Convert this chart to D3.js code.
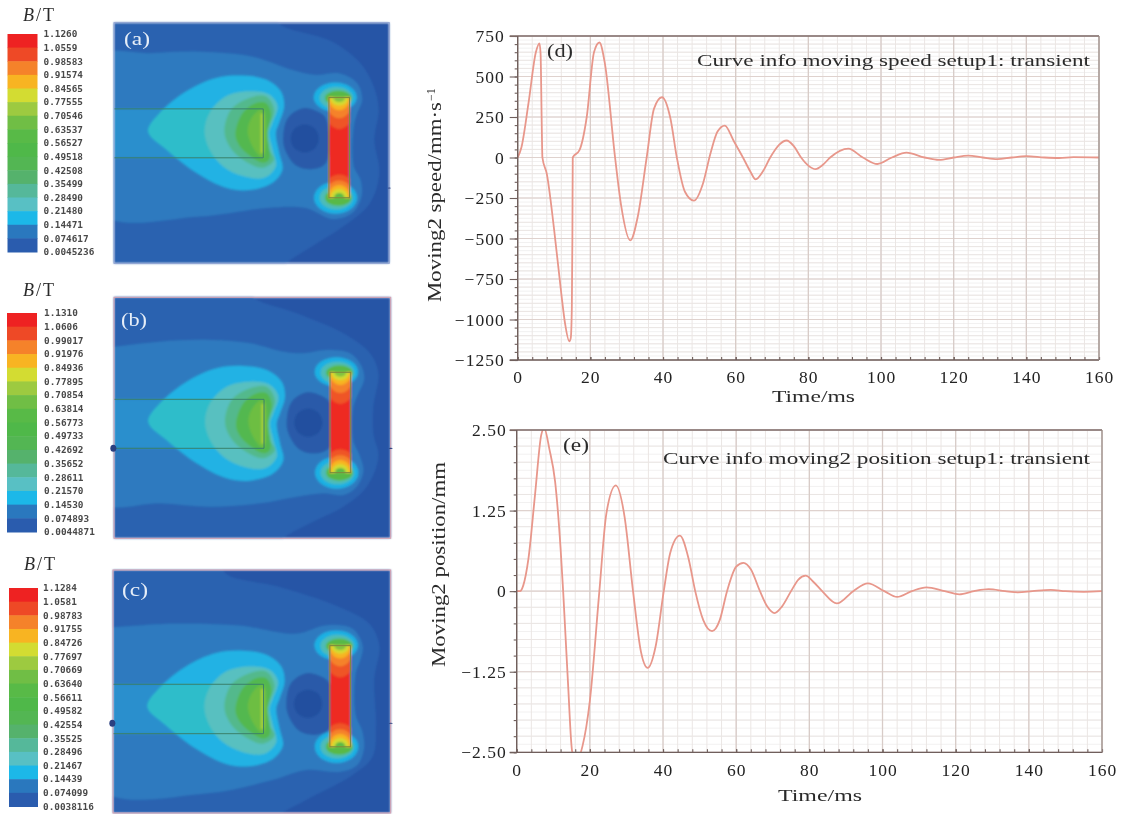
<!DOCTYPE html>
<html><head><meta charset="utf-8">
<script src="https://cdn.jsdelivr.net/npm/d3@7/dist/d3.min.js"></script>
<style>html,body{margin:0;padding:0;background:#fff}svg{display:block}
text{font-family:"Liberation Serif",serif;fill:#2b2b2b}</style></head><body>
<svg id="c" width="1123" height="814"></svg>
<script>
// ---------- legends ----------
const legendColors = ["#ee2024","#ee4a25","#f5822a","#f8b422","#d3dc33","#9dca3f","#6fbe45","#58ba47","#4fb848","#52b652","#54b26c","#55b89a","#58c0c4","#1fb8e8","#2a78be","#2a5cae"];
const legendA = ["1.1260","1.0559","0.98583","0.91574","0.84565","0.77555","0.70546","0.63537","0.56527","0.49518","0.42508","0.35499","0.28490","0.21480","0.14471","0.074617","0.0045236"];
const legendB = ["1.1310","1.0606","0.99017","0.91976","0.84936","0.77895","0.70854","0.63814","0.56773","0.49733","0.42692","0.35652","0.28611","0.21570","0.14530","0.074893","0.0044871"];
const legendC = ["1.1284","1.0581","0.98783","0.91755","0.84726","0.77697","0.70669","0.63640","0.56611","0.49582","0.42554","0.35525","0.28496","0.21467","0.14439","0.074099","0.0038116"];

// ---------- field contours (field units: 830 x 723 per panel) ----------
const outerA = [[-40,-40],[498,-40],[498,2],[658,57],[743,122],[783,192],[798,262],[785,352],[800,452],[770,545],[680,620],[600,670],[520,723],[480,770],[-40,770]];
const outerB = [[-40,-40],[400,-40],[418,0],[548,48],[688,108],[768,168],[793,228],[778,328],[778,408],[793,478],[758,568],[688,628],[608,668],[508,723],[470,770],[-40,770]];
const outerC = [[-40,-40],[320,-40],[336,10],[496,50],[676,110],[766,160],[796,225],[781,325],[786,465],[776,555],[716,610],[576,685],[496,730],[460,770],[-40,770]];
const bandA = [[-40,102],[108,92],[258,87],[418,102],[538,142],[608,157],[678,152],[733,182],[748,232],[733,272],[723,312],[723,432],[743,472],[746,522],[718,572],[658,590],[578,557],[458,557],[258,582],[-40,572]];
const bandB = [[-40,150],[0,148],[138,133],[288,128],[408,138],[508,163],[568,168],[638,158],[708,168],[743,208],[750,248],[733,288],[718,330],[718,430],[735,470],[748,520],[728,568],[688,593],[628,588],[548,598],[438,618],[288,628],[138,618],[-40,613]];
const bandC = [[-40,170],[0,170],[176,160],[376,165],[546,190],[636,165],[716,175],[746,225],[740,265],[725,310],[725,430],[745,480],[750,530],[730,580],[680,600],[576,595],[476,625],[276,665],[-40,650]];
const blobCyan = [[103,373],[138,318],[218,253],[308,213],[388,206],[458,218],[503,253],[513,298],[498,348],[488,378],[498,438],[508,488],[478,528],[408,550],[338,543],[248,498],[158,428]];
const blobLight = [[273,373],[288,318],[338,268],[408,253],[468,263],[493,298],[478,348],[468,378],[478,428],[488,478],[453,513],[388,508],[328,478],[288,428]];
const blobTeal = [[333,373],[353,308],[408,273],[458,268],[483,308],[468,358],[463,378],[468,428],[483,458],[448,483],[388,458],[348,418]];
const blobGreen = [[366,378],[388,318],[428,288],[458,288],[473,318],[463,378],[468,458],[448,468],[398,438],[373,408]];
const blobBright = [[403,373],[418,328],[450,306],[450,453],[423,428]];
const holeOuter = [[578,285],[628,298],[648,318],[648,448],[608,468],[558,458],[523,408],[518,368],[533,313]];
const holeInner = [[583,334],[613,346],[625,376],[613,406],[583,418],[553,406],[541,376],[553,346]];
const box = [0,306,450,453];
const pole = [648,225,710,526];
const lobes = [[667,224,65,44,"#1cb0e3"],[668,526,65,48,"#1cb0e3"],[670,226,50,33,"#4dbcb8"],[670,526,50,35,"#4dbcb8"],[676,226,40,22,"#58b947"],[676,526,40,24,"#58b947"]];
const poleLayers = [[679,225,52,95,"#ef5526"],[679,225,42,62,"#f5822a"],[679,225,33,38,"#f8b422"],[679,225,27,24,"#d3dc33"],[679,225,18,13,"#7fc341"],
                    [679,526,54,70,"#ef5526"],[679,526,44,52,"#f5822a"],[679,526,34,38,"#f8b422"],[679,526,26,26,"#d3dc33"],[679,526,16,14,"#58b947"]];
const panels = [
 {name:"(a)", rect:[114,22.7,389.3,263.3], outer:outerA, band:bandA, dy:-47, holeDx:-8, holeDy:-28, leg:legendA, legX:[7.5,37.5], legY:[34,252], legText:43.5, title:[23,21], lab:[124,45], nubs:[[830,497,3,1]]},
 {name:"(b)", rect:[114,297.3,390.7,538.3], outer:outerB, band:bandB, dy:0, holeDx:0, holeDy:0, leg:legendB, legX:[7,37], legY:[313,532], legText:44, title:[23,296], lab:[121,326], nubs:[[-2,453,6,7],[830,453,4,1.2]]},
 {name:"(c)", rect:[113,570,390.7,813], outer:outerC, band:bandC, dy:34, holeDx:0, holeDy:22, leg:legendC, legX:[9,38], legY:[588,806.5], legText:43, title:[24,570], lab:[122,596], nubs:[[-2,456,6,7],[830,456,4,1.2]]}
];

// ---------- curves ----------
const tSpeed = [0,1,3,5,6,6.3,6.6,6.8,8,10,12,13,14.2,14.6,14.9,15.05,15.15,17,19,21,22.5,24,26.8,28.5,31,33,35.5,37.5,39.7,42,43.8,46,48.5,51,53,55,57,59.5,62,64,65.5,67.5,69.5,72,74,76,78,80,82,84,86,91,95,99,103,107,112,116,120,124,128,132,136,140,145,149,153,160];
const vSpeed = [0,60,340,650,705,640,230,0,-100,-440,-840,-1020,-1135,-1115,-930,-500,0,45,250,650,710,580,0,-300,-512,-370,0,300,372,245,0,-210,-266,-160,20,160,197,100,0,-85,-135,-85,0,80,105,70,0,-50,-72,-45,0,55,0,-40,0,30,0,-15,0,12,0,-10,0,8,0,-3,2,0];
const tPos = [0,0.9,1.8,3.2,5,6.7,7.5,8.95,10.5,12,12.7,14,15.2,16.5,18,20,22.6,24.5,27.1,29.5,31.8,34,35.8,38,40.2,42,44.6,47,48.8,51,53.4,55.5,57.5,60,62,64,66.5,68.5,70.5,72.5,75,77,79,81,83.5,87.5,92,96,100.5,104,108,112,117,121,125,129,133.5,137,141,146,150,155,160];
const vPos = [0,0,0.09,0.5,1.49,2.42,2.53,2.2,1.7,0.66,0,-1.4,-2.5,-2.62,-2.4,-1.7,0,1.2,1.64,1.15,0,-0.95,-1.19,-0.85,0,0.6,0.86,0.5,0,-0.45,-0.62,-0.45,0,0.38,0.44,0.34,0,-0.24,-0.34,-0.24,0,0.18,0.24,0.15,0,-0.19,0,0.12,0,-0.09,0,0.06,0,-0.05,0,0.03,0,-0.02,0,0.02,0,-0.01,0];
const xMajor = [0,20,40,60,80,100,120,140,160];
const speedMajor = [750,500,250,0,-250,-500,-750,-1000,-1250];
const posMajor = [2.5,1.25,0,-1.25,-2.5];
const posLabels = ["2.50","1.25","0","\u22121.25","\u22122.50"];
const noteD = "Curve info moving speed setup1: transient";
const noteE = "Curve info moving2 position setup1: transient";

const svg = d3.select("#c");
const defs = svg.append("defs");
[["blurA",0.9],["blurT",0.35],["blurL",0.4],["blurG",0.3]].forEach(([id,s])=>{
  defs.append("filter").attr("id",id).attr("x","-5%").attr("y","-5%").attr("width","110%").attr("height","110%")
      .append("feGaussianBlur").attr("stdDeviation",s);
});

// ---------- field panels ----------
panels.forEach((p,i)=>{
  const sx = d3.scaleLinear().domain([0,830]).range([p.rect[0],p.rect[2]]);
  const sy = d3.scaleLinear().domain([0,723]).range([p.rect[1],p.rect[3]]);
  const path = (pts,dx=0,dy=0)=>d3.line().x(d=>sx(d[0]+dx)).y(d=>sy(d[1]+dy)).curve(d3.curveCatmullRomClosed.alpha(.5))(pts);
  defs.append("clipPath").attr("id","panel"+i).append("rect").attr("x",sx(0)).attr("y",sy(0)).attr("width",sx(830)-sx(0)).attr("height",sy(723)-sy(0));
  defs.append("clipPath").attr("id","box"+i).append("rect").attr("x",sx(box[0])).attr("y",sy(box[1]+p.dy)).attr("width",sx(box[2])-sx(box[0])).attr("height",sy(box[3])-sy(box[1]));
  defs.append("clipPath").attr("id","pole"+i).append("rect").attr("x",sx(pole[0])).attr("y",sy(pole[1])).attr("width",sx(pole[2])-sx(pole[0])).attr("height",sy(pole[3])-sy(pole[1]));
  const wrap = svg.append("g").attr("filter","url(#blurA)");
  const g = wrap.append("g").attr("clip-path",`url(#panel${i})`);
  g.append("rect").attr("x",sx(0)).attr("y",sy(0)).attr("width",sx(830)-sx(0)).attr("height",sy(723)-sy(0)).attr("fill","#2655a6");
  g.append("path").attr("d",path(p.outer)).attr("fill","#2b62b0");
  g.append("path").attr("d",path(p.band)).attr("fill","#2e7abf");
  g.append("rect").attr("x",sx(box[0])).attr("y",sy(box[1]+p.dy)).attr("width",sx(box[2])-sx(box[0])).attr("height",sy(box[3])-sy(box[1])).attr("fill","#2a8fcd");
  g.append("path").attr("d",path(blobCyan,0,p.dy)).attr("fill","#20b2e4");
  g.append("g").attr("clip-path",`url(#box${i})`).append("path").attr("d",path(blobCyan,0,p.dy)).attr("fill","#2fbdca");
  g.append("path").attr("d",path(blobLight,0,p.dy)).attr("fill","#58c0c0");
  g.append("path").attr("d",path(blobTeal,0,p.dy)).attr("fill","#52b98c");
  g.append("path").attr("d",path(blobGreen,0,p.dy)).attr("fill","#52b84f");
  g.append("path").attr("d",path(blobBright,0,p.dy)).attr("fill","#6dbe42");
  g.append("rect").attr("x",sx(box[2]-8)).attr("y",sy(box[1]+p.dy+14)).attr("width",sx(8)-sx(0)).attr("height",sy(box[3]-box[1]-28)-sy(0)).attr("fill","#a9d03a");
  g.append("path").attr("d",path(holeOuter,p.holeDx,p.holeDy)).attr("fill","#2a5aa9");
  g.append("path").attr("d",path(holeInner,p.holeDx,p.holeDy)).attr("fill","#20509f");
  g.selectAll("ellipse.lobe").data(lobes).join("ellipse").attr("class","lobe")
    .attr("cx",d=>sx(d[0])).attr("cy",d=>sy(d[1])).attr("rx",d=>sx(d[2])-sx(0)).attr("ry",d=>sy(d[3])-sy(0)).attr("fill",d=>d[4]);
  const pg = g.append("g").attr("clip-path",`url(#pole${i})`);
  pg.append("rect").attr("x",sx(pole[0])).attr("y",sy(pole[1])).attr("width",sx(pole[2])-sx(pole[0])).attr("height",sy(pole[3])-sy(pole[1])).attr("fill","#ee2a24");
  pg.selectAll("ellipse").data(poleLayers).join("ellipse")
    .attr("cx",d=>sx(d[0])).attr("cy",d=>sy(d[1])).attr("rx",d=>sx(d[2])-sx(0)).attr("ry",d=>sy(d[3])-sy(0)).attr("fill",d=>d[4]);
  // outlines kept sharper
  const o = svg.append("g").attr("filter","url(#blurG)");
  o.append("rect").attr("x",sx(pole[0])).attr("y",sy(pole[1])).attr("width",sx(pole[2])-sx(pole[0])).attr("height",sy(pole[3])-sy(pole[1])).attr("fill","none").attr("stroke","#7d8a3c").attr("stroke-width",1);
  o.append("path").attr("d",`M${sx(0)},${sy(box[1]+p.dy)}H${sx(box[2])}V${sy(box[3]+p.dy)}H${sx(0)}`).attr("fill","none").attr("stroke","#39806a").attr("stroke-width",1);
  o.append("rect").attr("x",sx(0)).attr("y",sy(0)).attr("width",sx(830)-sx(0)).attr("height",sy(723)-sy(0)).attr("fill","none").attr("stroke",i==0?"#8fa2d2":"#d9a0b0").attr("stroke-width",1);
  o.selectAll("ellipse").data(p.nubs).join("ellipse").attr("cx",d=>sx(d[0])).attr("cy",d=>sy(d[1])).attr("rx",d=>d[2]/2).attr("ry",d=>d[3]/2).attr("fill","#2a3f80");
  svg.append("text").attr("x",p.lab[0]).attr("y",p.lab[1]).text(p.name).attr("textLength",26).attr("lengthAdjust","spacingAndGlyphs").style("fill","#e6eef8").style("font-size","18px").attr("filter","url(#blurT)");

  // legend
  const yb = d3.scaleBand().domain(d3.range(legendColors.length)).range(p.legY);
  const yl = d3.scalePoint().domain(p.leg).range(p.legY);
  const lg = svg.append("g");
  lg.append("g").attr("filter","url(#blurL)").selectAll("rect").data(legendColors).join("rect")
    .attr("x",p.legX[0]).attr("width",p.legX[1]-p.legX[0]).attr("y",(d,j)=>yb(j)).attr("height",yb.bandwidth()+.5).attr("fill",d=>d);
  lg.append("g").attr("filter","url(#blurL)").selectAll("text").data(p.leg).join("text")
    .attr("x",p.legText).attr("y",d=>yl(d)).attr("dy","0.35em").text(d=>d)
    .style("font-family","'DejaVu Sans Mono',monospace").style("font-weight","bold").style("font-size","9.4px").style("fill","#4a4a4a");
  const t = svg.append("text").attr("x",p.title[0]).attr("y",p.title[1]).attr("filter","url(#blurT)").style("font-size","18px").style("letter-spacing","2px");
  t.append("tspan").text("B").style("font-style","italic");
  t.append("tspan").text("/T");
});

// ---------- line plots ----------
function plot(o){
  const x = d3.scaleLinear().domain([0,160]).range(o.xr);
  const y = d3.scaleLinear().domain(o.yd).range(o.yr);
  const g = svg.append("g");
  const grid = g.append("g").attr("filter","url(#blurG)");
  const vline = (vals,c,w)=>grid.append("g").selectAll("line").data(vals).join("line")
    .attr("x1",d=>x(d)).attr("x2",d=>x(d)).attr("y1",o.yr[1]).attr("y2",o.yr[0]).attr("stroke",c).attr("stroke-width",w);
  const hline = (vals,c,w)=>grid.append("g").selectAll("line").data(vals).join("line")
    .attr("y1",d=>y(d)).attr("y2",d=>y(d)).attr("x1",o.xr[0]).attr("x2",o.xr[1]).attr("stroke",c).attr("stroke-width",w);
  hline(o.pale,"#f2f1f1",1);
  hline(o.minor,"#ebe6e4",1);
  vline(d3.range(0,161,4),"#ebe6e4",1);
  hline(o.major,"#dfd2ce",1.2);
  vline(xMajor,"#d8ccc8",1.3);
  // curve
  const cid = "clip"+o.id;
  defs.append("clipPath").attr("id",cid).append("rect").attr("x",o.xr[0]).attr("y",o.yr[1]).attr("width",o.xr[1]-o.xr[0]).attr("height",o.yr[0]-o.yr[1]);
  const line = d3.line().x((d,i)=>x(o.t[i])).y(d=>y(d)).curve(d3.curveMonotoneX);
  g.append("path").attr("clip-path",`url(#${cid})`).attr("d",line(o.v)).attr("fill","none").attr("stroke","#e8978b").attr("stroke-width",1.8).attr("filter","url(#blurG)");
  // axes
  const ax = g.append("g").attr("filter","url(#blurG)");
  const style = s=>{ s.select(".domain").remove(); s.selectAll("line").attr("stroke","#6f5f5c").attr("stroke-width",1.1);
    s.selectAll("text").style("font-family","'Liberation Serif',serif").style("font-size",o.fs+"px").style("letter-spacing","1px").style("fill","#222"); };
  ax.append("g").attr("transform",`translate(${o.xr[0]},0)`).call(d3.axisLeft(y).tickValues(o.minor).tickSize(3).tickFormat("")).call(style);
  ax.append("g").attr("transform",`translate(${o.xr[0]},0)`).call(d3.axisLeft(y).tickValues(o.major).tickSize(o.tickL).tickPadding(o.padL).tickFormat(o.fmt)).call(style);
  ax.append("g").attr("transform",`translate(0,${o.yr[0]})`).call(d3.axisBottom(x).tickValues(d3.range(0,161,4)).tickSize(-3).tickFormat("")).call(style);
  ax.append("g").attr("transform",`translate(0,${o.yr[0]})`).call(d3.axisBottom(x).tickValues(xMajor).tickSize(-3).tickPadding(o.padB).tickFormat(d3.format("d"))).call(style);
  const fr = (x1,y1,x2,y2,c,w)=>ax.append("line").attr("x1",x1).attr("y1",y1).attr("x2",x2).attr("y2",y2).attr("stroke",c).attr("stroke-width",w);
  fr(o.xr[0]-o.tickL,o.yr[1],o.xr[1],o.yr[1],"#7f6c68",1.3);
  fr(o.xr[0]-o.tickL,o.yr[0],o.xr[1],o.yr[0],"#6f5f5c",1.3);
  fr(o.xr[0],o.yr[1],o.xr[0],o.yr[0],"#6f5f5c",1.4);
  fr(o.xr[1],o.yr[1],o.xr[1],o.yr[0],"#9a8c88",1.2);
  // labels
  const tf = g.append("g").attr("filter","url(#blurT)");
  const stretched = (x0,y0,w,txt,fs)=>tf.append("text").attr("x",x0).attr("y",y0).attr("textLength",w).attr("lengthAdjust","spacingAndGlyphs").text(txt).style("font-size",fs+"px");
  stretched(o.tag[0],o.tag[1],26,o.tagText,18);
  stretched(o.note[0],o.note[1],o.note[2],o.noteText,17.5);
  stretched(o.xl[0],o.xl[1],o.xl[2],"Time/ms",17.5);
  tf.append("text").attr("transform",`translate(${o.yl[0]},${o.yl[1]}) rotate(-90)`).attr("textLength",o.yl[2]).attr("lengthAdjust","spacingAndGlyphs").style("font-size","18px").text(o.yText);
  if(o.ySup) tf.append("text").attr("transform",`translate(${o.yl[0]-6},${o.yl[1]-o.yl[2]-1}) rotate(-90)`).style("font-size","12px").text(o.ySup);
}
const spMinor = d3.range(-1250,751,50), spPale = d3.range(-1250,751,25);
const poMinor = d3.range(-2.5,2.51,0.25), poPale = d3.range(-2.5,2.51,0.125);
plot({id:"d",xr:[517.7,1099],yr:[360,36],yd:[-1250,750],t:tSpeed,v:vSpeed,major:speedMajor,minor:spMinor,pale:spPale,
  fmt:d=>String(d).replace("-","\u2212"),fs:17.5,tickL:8,padL:5,padB:11,tag:[547,57],tagText:"(d)",note:[697,66,393],noteText:noteD,
  xl:[772,402,83],yl:[441,302,200],yText:"Moving2 speed/mm\u00b7s",ySup:"\u22121"});
plot({id:"e",xr:[516.7,1102],yr:[752.3,430],yd:[-2.5,2.5],t:tPos,v:vPos,major:posMajor,minor:poMinor,pale:poPale,
  fmt:d=>posLabels[posMajor.indexOf(d)],fs:17.5,tickL:7,padL:3,padB:11,tag:[563,451],tagText:"(e)",note:[663,464,427],noteText:noteE,
  xl:[778,801,84],yl:[445,667,205],yText:"Moving2 position/mm"});
</script></body></html>
